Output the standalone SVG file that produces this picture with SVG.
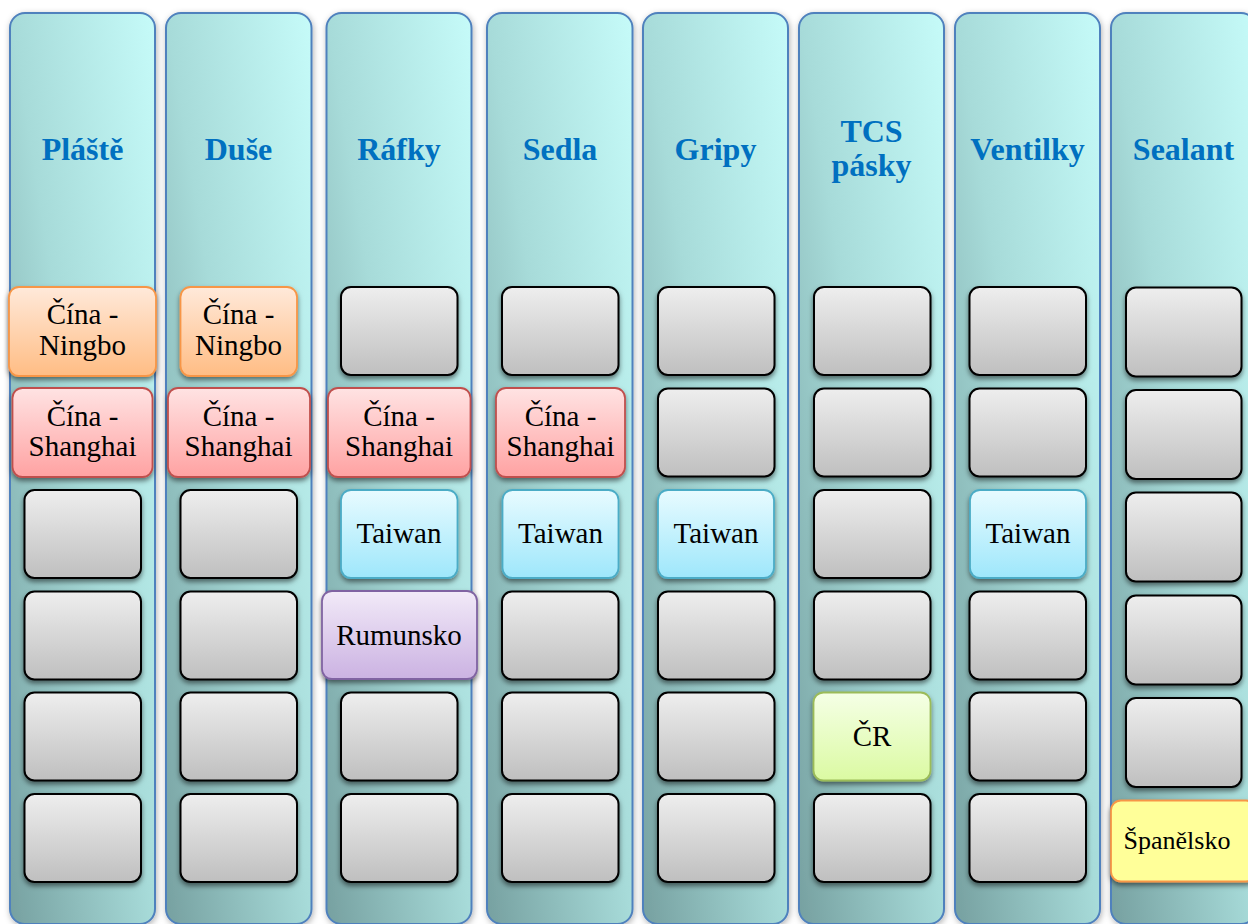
<svg xmlns="http://www.w3.org/2000/svg" width="1248" height="924" viewBox="0 0 1248 924">
<defs>
<linearGradient id="gCol" x1="0" y1="1" x2="1" y2="0">
<stop offset="0" stop-color="#76A0A0"/><stop offset="0.5" stop-color="#A7DBD9"/><stop offset="1" stop-color="#C6FBF9"/>
</linearGradient>
<linearGradient id="gGray" x1="0" y1="0" x2="0" y2="1"><stop offset="0" stop-color="#EEEEEE"/><stop offset="1" stop-color="#BFBFBF"/></linearGradient>
<linearGradient id="gOrange" x1="0" y1="0" x2="0" y2="1"><stop offset="0" stop-color="#FFE9DA"/><stop offset="1" stop-color="#FFBD84"/></linearGradient>
<linearGradient id="gRed" x1="0" y1="0" x2="0" y2="1"><stop offset="0" stop-color="#FFE3E3"/><stop offset="1" stop-color="#FFA2A2"/></linearGradient>
<linearGradient id="gBlue" x1="0" y1="0" x2="0" y2="1"><stop offset="0" stop-color="#E8FBFF"/><stop offset="1" stop-color="#9EE7FB"/></linearGradient>
<linearGradient id="gPurple" x1="0" y1="0" x2="0" y2="1"><stop offset="0" stop-color="#F2EAF8"/><stop offset="1" stop-color="#CBB2E2"/></linearGradient>
<linearGradient id="gGreen" x1="0" y1="0" x2="0" y2="1"><stop offset="0" stop-color="#F5FFE6"/><stop offset="1" stop-color="#DBFAA2"/></linearGradient>
<filter id="colShadow" x="-10%" y="-5%" width="120%" height="110%"><feDropShadow dx="1" dy="2" stdDeviation="3" flood-color="#000" flood-opacity="0.3"/></filter>
<filter id="boxShadow" x="-10%" y="-10%" width="120%" height="130%"><feDropShadow dx="0" dy="3" stdDeviation="2.5" flood-color="#000" flood-opacity="0.5"/></filter>
</defs>
<style>
.col{fill:url(#gCol);stroke:#4F81BD;stroke-width:2;filter:url(#colShadow)}
.hdr{font-family:'Liberation Serif','Tinos','Noto Serif','DejaVu Serif',serif;font-weight:bold;font-size:32px;fill:#0070C0;text-anchor:middle}
.box{filter:url(#boxShadow)}
.gray{fill:url(#gGray);stroke:#000;stroke-width:2}
.orange{fill:url(#gOrange);stroke:#F79646;stroke-width:1.8}
.red{fill:url(#gRed);stroke:#C0504D;stroke-width:1.8}
.blue{fill:url(#gBlue);stroke:#4BACC6;stroke-width:1.8}
.purple{fill:url(#gPurple);stroke:#8064A2;stroke-width:1.8}
.green{fill:url(#gGreen);stroke:#9BBB59;stroke-width:1.8}
.yellow{fill:#FFFF99;stroke:#F79646;stroke-width:1.8}
.t{font-family:'Liberation Serif','Tinos','Noto Serif','DejaVu Serif',serif;font-size:29px;fill:#000;text-anchor:middle}
</style>
<rect width="1248" height="924" fill="#FFFFFF"/>

<g id="col-plaste">
<rect class="col" x="10" y="13" width="145" height="911" rx="15"/>
<text class="hdr" x="82.5" y="160">Pláště</text>
<g class="box">
<rect class="orange" x="9" y="287" width="147" height="89" rx="10"/>
<rect class="red" x="12.5" y="388" width="140" height="89" rx="10"/>
<rect class="gray" x="24.5" y="490" width="116.5" height="88" rx="10"/>
<rect class="gray" x="24.5" y="591.5" width="116.5" height="88" rx="10"/>
<rect class="gray" x="24.5" y="692.5" width="116.5" height="88" rx="10"/>
<rect class="gray" x="24.5" y="794" width="116.5" height="88" rx="10"/>
</g>
<text class="t" x="82.5" y="324">Čína -</text><text class="t" x="82.5" y="355">Ningbo</text>
<text class="t" x="82.5" y="426">Čína -</text><text class="t" x="82.5" y="456">Shanghai</text>
</g>

<g id="col-duse">
<rect class="col" x="166" y="13" width="145.5" height="911" rx="15"/>
<text class="hdr" x="238.5" y="160">Duše</text>
<g class="box">
<rect class="orange" x="180.5" y="287" width="116.5" height="89" rx="10"/>
<rect class="red" x="168" y="388" width="142" height="89" rx="10"/>
<rect class="gray" x="180.5" y="490" width="116.5" height="88" rx="10"/>
<rect class="gray" x="180.5" y="591.5" width="116.5" height="88" rx="10"/>
<rect class="gray" x="180.5" y="692.5" width="116.5" height="88" rx="10"/>
<rect class="gray" x="180.5" y="794" width="116.5" height="88" rx="10"/>
</g>
<text class="t" x="238.5" y="324">Čína -</text><text class="t" x="238.5" y="355">Ningbo</text>
<text class="t" x="238.5" y="426">Čína -</text><text class="t" x="238.5" y="456">Shanghai</text>
</g>

<g id="col-rafky">
<rect class="col" x="326.5" y="13" width="145" height="911" rx="15"/>
<text class="hdr" x="399" y="160">Ráfky</text>
<g class="box">
<rect class="gray" x="341" y="287" width="116.5" height="88" rx="10"/>
<rect class="red" x="328" y="388" width="142.5" height="89" rx="10"/>
<rect class="blue" x="341" y="490" width="116.5" height="88" rx="10"/>
<rect class="purple" x="322" y="591" width="155" height="88" rx="10"/>
<rect class="gray" x="341" y="692.5" width="116.5" height="88" rx="10"/>
<rect class="gray" x="341" y="794" width="116.5" height="88" rx="10"/>
</g>
<text class="t" x="399" y="426">Čína -</text><text class="t" x="399" y="456">Shanghai</text>
<text class="t" x="399" y="543">Taiwan</text>
<text class="t" x="399" y="645">Rumunsko</text>
</g>

<g id="col-sedla">
<rect class="col" x="487" y="13" width="145.5" height="911" rx="15"/>
<text class="hdr" x="560" y="160">Sedla</text>
<g class="box">
<rect class="gray" x="502" y="287" width="116.5" height="88" rx="10"/>
<rect class="red" x="496" y="388" width="129" height="89" rx="10"/>
<rect class="blue" x="502.5" y="490" width="116" height="88" rx="10"/>
<rect class="gray" x="502" y="591.5" width="116.5" height="88" rx="10"/>
<rect class="gray" x="502" y="692.5" width="116.5" height="88" rx="10"/>
<rect class="gray" x="502" y="794" width="116.5" height="88" rx="10"/>
</g>
<text class="t" x="560.5" y="426">Čína -</text><text class="t" x="560.5" y="456">Shanghai</text>
<text class="t" x="560.5" y="543">Taiwan</text>
</g>

<g id="col-gripy">
<rect class="col" x="643" y="13" width="145" height="911" rx="15"/>
<text class="hdr" x="715.5" y="160">Gripy</text>
<g class="box">
<rect class="gray" x="658" y="287" width="116.5" height="88" rx="10"/>
<rect class="gray" x="658" y="388.5" width="116.5" height="88" rx="10"/>
<rect class="blue" x="658" y="490" width="116" height="88" rx="10"/>
<rect class="gray" x="658" y="591.5" width="116.5" height="88" rx="10"/>
<rect class="gray" x="658" y="692.5" width="116.5" height="88" rx="10"/>
<rect class="gray" x="658" y="794" width="116.5" height="88" rx="10"/>
</g>
<text class="t" x="716" y="543">Taiwan</text>
</g>

<g id="col-tcs">
<rect class="col" x="799" y="13" width="145" height="911" rx="15"/>
<text class="hdr" x="871.5" y="142">TCS</text>
<text class="hdr" x="871.5" y="176">pásky</text>
<g class="box">
<rect class="gray" x="814" y="287" width="116.5" height="88" rx="10"/>
<rect class="gray" x="814" y="388.5" width="116.5" height="88" rx="10"/>
<rect class="gray" x="814" y="490" width="116.5" height="88" rx="10"/>
<rect class="gray" x="814" y="591.5" width="116.5" height="88" rx="10"/>
<rect class="green" x="813.5" y="692.5" width="117" height="88" rx="10"/>
<rect class="gray" x="814" y="794" width="116.5" height="88" rx="10"/>
</g>
<text class="t" x="872" y="746">ČR</text>
</g>

<g id="col-ventilky">
<rect class="col" x="955" y="13" width="145" height="911" rx="15"/>
<text class="hdr" x="1027.5" y="160">Ventilky</text>
<g class="box">
<rect class="gray" x="969.5" y="287" width="116.5" height="88" rx="10"/>
<rect class="gray" x="969.5" y="388.5" width="116.5" height="88" rx="10"/>
<rect class="blue" x="970" y="490" width="116" height="88" rx="10"/>
<rect class="gray" x="969.5" y="591.5" width="116.5" height="88" rx="10"/>
<rect class="gray" x="969.5" y="692.5" width="116.5" height="88" rx="10"/>
<rect class="gray" x="969.5" y="794" width="116.5" height="88" rx="10"/>
</g>
<text class="t" x="1028" y="543">Taiwan</text>
</g>

<g id="col-sealant">
<rect class="col" x="1111" y="13" width="145" height="911" rx="15"/>
<text class="hdr" x="1183.5" y="160">Sealant</text>
<g class="box">
<rect class="gray" x="1126" y="287.5" width="115.5" height="89" rx="10"/>
<rect class="gray" x="1126" y="390" width="115.5" height="89" rx="10"/>
<rect class="gray" x="1126" y="492.5" width="115.5" height="89" rx="10"/>
<rect class="gray" x="1126" y="595.5" width="115.5" height="89" rx="10"/>
<rect class="gray" x="1126" y="698" width="115.5" height="89" rx="10"/>
<rect class="yellow" x="1111" y="800.5" width="145" height="81" rx="10"/>
</g>
<text class="t" x="1177" y="849" style="font-size:26px">Španělsko</text>
</g>

<g id="connectors"/>
</svg>
